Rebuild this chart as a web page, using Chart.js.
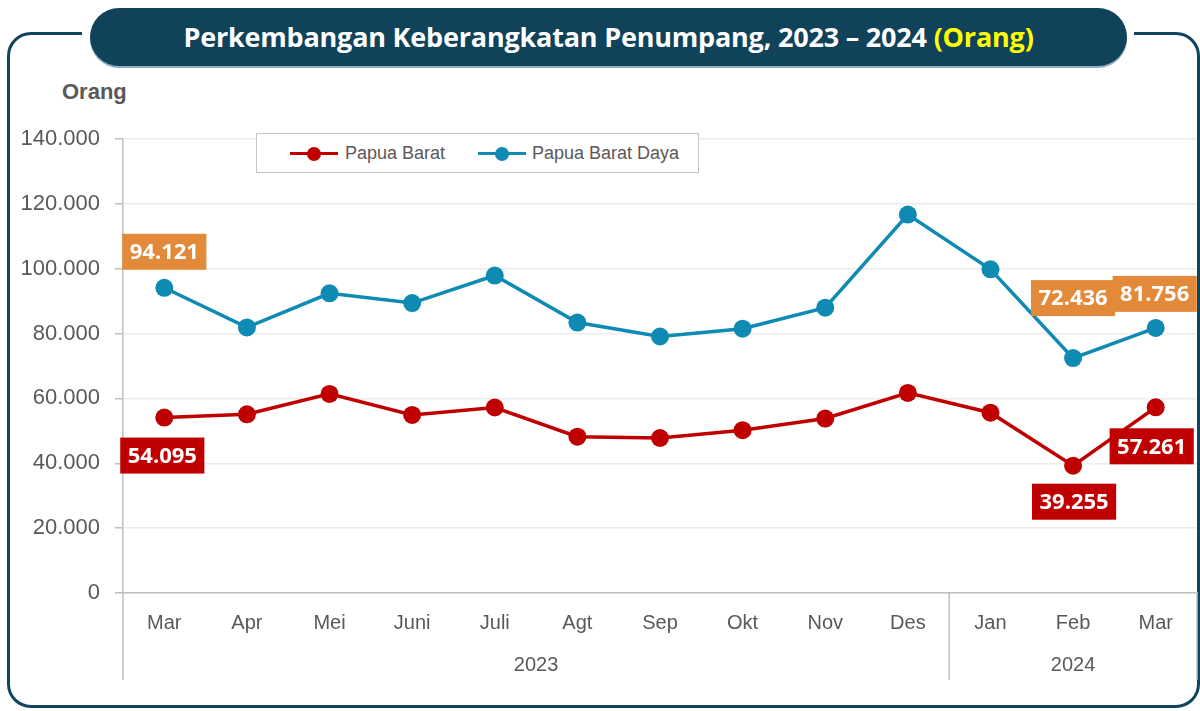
<!DOCTYPE html>
<html>
<head>
<meta charset="utf-8">
<script src="https://cdn.jsdelivr.net/npm/chart.js@4.4.1/dist/chart.umd.min.js"></script>
<style>
  html, body { margin: 0; padding: 0; background: #fff; }
  body { width: 1200px; height: 711px; position: relative; overflow: hidden; font-family: "Liberation Sans", Arial, sans-serif; }
  #frame { position: absolute; left: 7px; top: 32px; width: 1187px; height: 670px; border: 3px solid #11445e; border-radius: 24px; }
  #frameGap { position: absolute; left: 82px; top: 26px; width: 1052px; height: 14px; background: #fff; }
  #banner { position: absolute; left: 90px; top: 8px; width: 1037px; height: 58px; background: #10425a; border-radius: 29px;
            box-shadow: 0 2px 0 #8fb0c0; color: #fff; font: bold 27px "Open Sans", sans-serif; text-align: center; line-height: 58px; letter-spacing: -0.2px; }
  #banner .unit { color: #ffff00; }
  #yTitle { position: absolute; left: 62px; top: 79px; font: bold 22px "Liberation Sans", Arial, sans-serif; color: #595959; }
  #chart { position: absolute; left: 0; top: 0; }
  #legend { position: absolute; left: 256px; top: 133px; width: 441px; height: 38px; border: 1.5px solid #c4c4c4; background: #fff; }
  #legend .item { position: absolute; top: 0; height: 38px; line-height: 38px; font-size: 18px; color: #595959; }
  #legend .sw { position: absolute; top: 18px; width: 48px; height: 3px; }
  #legend .sw::after { content: ""; position: absolute; left: 17px; top: -5.5px; width: 14px; height: 14px; border-radius: 50%; background: inherit; }
</style>
</head>
<body>
<div id="frame"></div>
<div id="frameGap"></div>
<div id="banner">Perkembangan Keberangkatan Penumpang, 2023 – 2024 <span class="unit">(Orang)</span></div>
<div id="yTitle">Orang</div>
<canvas id="chart" width="1200" height="711"></canvas>
<div id="legend">
  <span class="sw" style="left:33px;background:#c00000"></span>
  <span class="item" style="left:88px">Papua Barat</span>
  <span class="sw" style="left:221px;background:#0e8ab3"></span>
  <span class="item" style="left:275px">Papua Barat Daya</span>
</div>

<script>
// months and year groups on the x axis
const months = ["Mar", "Apr", "Mei", "Juni", "Juli", "Agt", "Sep", "Okt", "Nov", "Des", "Jan", "Feb", "Mar"];
const years = [{ label: "2023", from: 0, to: 9 }, { label: "2024", from: 10, to: 12 }];

// departing passengers
const papuaBarat = [54095, 55100, 61400, 54900, 57200, 48200, 47800, 50200, 53800, 61700, 55600, 39255, 57261];
const papuaBaratDaya = [94121, 81900, 92400, 89400, 97900, 83400, 79100, 81500, 88000, 116700, 99800, 72436, 81756];

const yTicks = [0, 20000, 40000, 60000, 80000, 100000, 120000, 140000];

const fmt = v => String(Math.round(v)).replace(/\B(?=(\d{3})+(?!\d))/g, ".");

// which points get a value box, and where it sits relative to the point
const valueBoxes = [
  { ds: 0, i: 0, dx: -2, dy: 38 },
  { ds: 0, i: 11, dx: 1, dy: 36 },
  { ds: 0, i: 12, dx: -4, dy: 39 },
  { ds: 1, i: 0, dx: 0, dy: -36 },
  { ds: 1, i: 11, dx: 0, dy: -60 },
  { ds: 1, i: 12, dx: -1, dy: -34 },
];
const boxColors = ["#c00000", "#e38a3a"];

const valueBoxPlugin = {
  id: "valueBoxes",
  afterDatasetsDraw(chart) {
    const ctx = chart.ctx;
    ctx.save();
    ctx.font = "bold 22px 'Open Sans', sans-serif";
    ctx.textAlign = "center";
    ctx.textBaseline = "middle";
    valueBoxes.forEach(b => {
      const pt = chart.getDatasetMeta(b.ds).data[b.i];
      const text = fmt(chart.data.datasets[b.ds].data[b.i]);
      const w = ctx.measureText(text).width + 15;
      const h = 36;
      const cx = pt.x + b.dx, cy = pt.y + b.dy;
      ctx.fillStyle = boxColors[b.ds];
      ctx.fillRect(cx - w / 2, cy - h / 2, w, h);
      ctx.fillStyle = "#fff";
      ctx.fillText(text, cx, cy + 1);
    });
    ctx.restore();
  }
};

// year row under the month labels, with the divider lines
const yearRowPlugin = {
  id: "yearRow",
  afterDraw(chart) {
    const x = chart.scales.x;
    const ctx = chart.ctx;
    const top = x.top, bottom = 680;
    const bounds = [x.left];
    years.forEach(g => {
      const end = g.to < months.length - 1
        ? (x.getPixelForValue(g.to) + x.getPixelForValue(g.to + 1)) / 2
        : x.right;
      bounds.push(end);
    });
    ctx.save();
    ctx.strokeStyle = "#bfbfbf";
    ctx.lineWidth = 1.5;
    bounds.forEach(px => {
      ctx.beginPath();
      ctx.moveTo(px, top);
      ctx.lineTo(px, bottom);
      ctx.stroke();
    });
    ctx.fillStyle = "#595959";
    ctx.font = "20px 'Liberation Sans', Arial, sans-serif";
    ctx.textAlign = "center";
    ctx.textBaseline = "middle";
    years.forEach(g => {
      const cx = (x.getPixelForValue(g.from) + x.getPixelForValue(g.to)) / 2;
      ctx.fillText(g.label, cx, 665);
    });
    ctx.restore();
  }
};

new Chart(document.getElementById("chart"), {
  type: "line",
  data: {
    labels: months,
    datasets: [
      {
        label: "Papua Barat",
        data: papuaBarat,
        borderColor: "#c00000",
        backgroundColor: "#c00000",
        pointBackgroundColor: "#c00000",
        borderWidth: 3.5,
        pointRadius: 9,
        pointBorderWidth: 0,
        tension: 0,
      },
      {
        label: "Papua Barat Daya",
        data: papuaBaratDaya,
        borderColor: "#0e8ab3",
        backgroundColor: "#0e8ab3",
        pointBackgroundColor: "#0e8ab3",
        borderWidth: 3.5,
        pointRadius: 9,
        pointBorderWidth: 0,
        tension: 0,
      }
    ]
  },
  options: {
    responsive: false,
    animation: false,
    layout: { autoPadding: false, padding: { top: 139, left: 0, right: 3, bottom: 0 } },
    plugins: { legend: { display: false }, tooltip: { enabled: false } },
    scales: {
      x: {
        offset: true,
        grid: { display: true, drawOnChartArea: false, drawTicks: false },
        border: { color: "#bfbfbf", width: 1.5 },
        ticks: {
          color: "#595959",
          font: { family: "'Liberation Sans', Arial, sans-serif", size: 20 },
          padding: 18,
          maxRotation: 0,
          autoSkip: false,
        },
        afterFit(scale) {
          scale.height = 118;
          scale.paddingLeft = 0;
          scale.paddingRight = 0;
        }
      },
      y: {
        min: 0,
        max: 140000,
        afterBuildTicks(scale) { scale.ticks = yTicks.map(v => ({ value: v })); },
        grid: { color: "#ececec", lineWidth: 1.5, tickColor: "#bfbfbf", tickLength: 8 },
        border: { color: "#bfbfbf", width: 1.5 },
        ticks: {
          color: "#595959",
          font: { family: "'Liberation Sans', Arial, sans-serif", size: 22 },
          padding: 15,
          callback: v => fmt(v),
        },
        afterFit(scale) { scale.width = 123; }
      }
    }
  },
  plugins: [valueBoxPlugin, yearRowPlugin]
});
</script>
</body>
</html>
